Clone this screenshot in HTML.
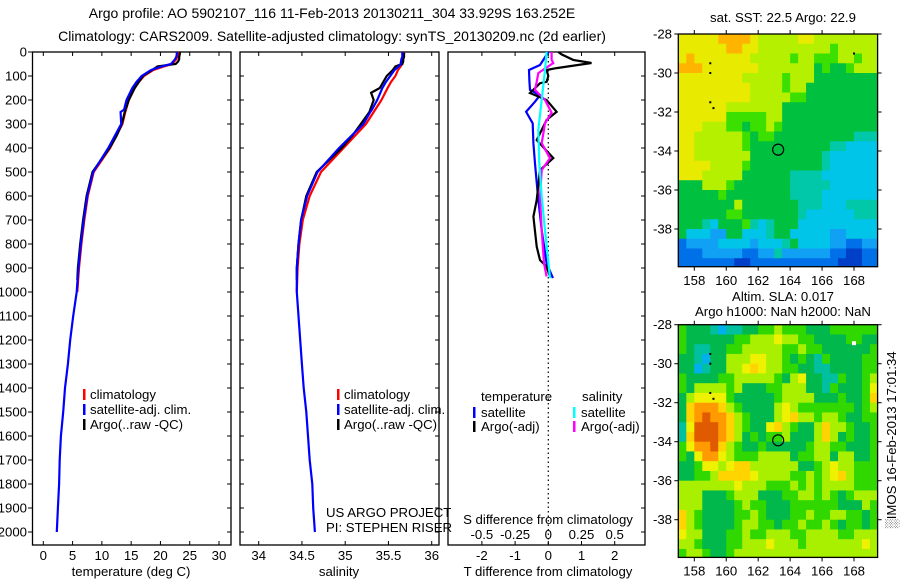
<!DOCTYPE html>
<html><head><meta charset="utf-8"><style>
body{margin:0;background:#fff;}
svg{display:block;font-family:"Liberation Sans",sans-serif;}
text{font-size:13.2px;fill:#000;}
</style></head><body>
<svg id="fig" width="900" height="580" viewBox="0 0 900 580"></svg>
<script>
// ---------- data ----------
const climD=[0,10,20,30,50,60,75,100,125,150,200,250,300,400,500,600,700,800,900,1000];
const climT=[23.0,23.0,22.9,22.7,22.0,20.6,18.8,17.2,16.3,15.6,14.6,14.0,13.5,11.4,8.6,7.6,7.0,6.5,6.1,5.8];
const climS=[35.68,35.68,35.68,35.67,35.66,35.64,35.61,35.58,35.53,35.49,35.42,35.33,35.24,34.98,34.72,34.59,34.51,34.47,34.45,34.44];
const satD=[0,10,20,30,50,60,75,100,125,150,200,240,250,300,400,500,600,700,800,900,1000,1100,1200,1300,1400,1500,1600,1700,1800,1900,2000];
const satT=[22.8,22.8,22.7,22.5,21.8,20.2,18.4,16.8,15.9,15.2,14.2,13.8,13.2,13.3,11.1,8.5,7.5,6.9,6.4,6.0,5.7,5.1,4.6,4.2,3.7,3.4,3.0,2.8,2.7,2.5,2.3];
const satS=[35.66,35.66,35.66,35.65,35.64,35.62,35.57,35.52,35.47,35.43,35.37,35.31,35.29,35.21,34.93,34.68,34.56,34.49,34.46,34.44,34.44,34.46,34.48,34.50,34.52,34.55,34.57,34.59,34.62,34.63,34.65];
const argoD=[2,10,20,30,40,50,55,60,75,100,150,170,200,250,300,350,400,500,600,700,800,900,950];
const argoT=[23.3,23.3,23.2,23.2,23.0,22.6,21.0,19.5,18.6,17.0,15.6,15.2,14.6,13.9,13.4,12.5,11.3,8.4,7.4,6.8,6.3,5.9,5.8];
const argoS=[35.68,35.68,35.68,35.67,35.67,35.66,35.62,35.58,35.55,35.48,35.40,35.30,35.33,35.28,35.18,35.08,34.96,34.67,34.55,34.49,34.46,34.44,34.44];
const dSatTD=[0,12,54,75,120,158,180,207,249,297,380,464,603,742,880,942];
const dSatT=[0,-0.05,-0.25,-0.58,-0.57,-0.55,-0.25,-0.4,-0.67,-0.47,-0.45,-0.4,-0.31,-0.2,-0.05,0.14];
const dArgoTD=[0,10,33,46,67,75,100,124,130,171,200,249,283,367,442,492,617,686,811,867,894,936];
const dArgoT=[0.3,0.4,0.75,1.3,0.25,-0.05,0.0,-0.05,-0.25,-0.55,-0.05,0.25,-0.05,-0.35,0.15,-0.25,-0.35,-0.45,-0.35,-0.25,-0.05,0.05];
const dArgoSD=[0,33,46,88,124,158,200,253,297,380,442,492,603,742,880,936];
const dArgoS=[0.025,0.025,0.0375,-0.075,-0.0875,-0.1,-0.025,0.025,-0.025,-0.05,0.0125,-0.05,-0.0625,-0.05,-0.0325,-0.0125];
const dSatSD=[0,75,200,325,464,603,742,942];
const dSatS=[-0.0125,-0.025,-0.05,-0.075,-0.0675,-0.05,-0.025,0.0125];
const depthTicks=[0,100,200,300,400,500,600,700,800,900,1000,1100,1200,1300,1400,1500,1600,1700,1800,1900,2000];
const tempTicks=[0,5,10,15,20,25,30];
const salTicks=[34,34.5,35,35.5,36];
const tdTicks=[-2,-1,0,1,2];
const sdTicks=[-0.5,-0.25,0,0.25,0.5];
const lonTicks=[158,160,162,164,166,168];
const latTicks=[-28,-30,-32,-34,-36,-38];
// SST map grid: 25 cols (157..169.5, 0.5deg), 24 rows (-28..-40)
const sstRows=[
"yyyyyooooylllllyylllllllll","yyyyyyooyylllllllllglllllll","yoyyyyyyylllllgllgggllglll","oooyyyyyyylllllllGgGGglll",
"yyyyyyyylllllglllGGGGGGGG","yyyyyyyyyllllgllGGGGGGGGG","yyyyyyyyylllllggGGGGGGGGG","yyyyyylllllllGGGGGGGGGGGG",
"yyyyyygggggllGGGGGGGGGGGG","yyylllggGgglgGGGGGGGGGGGG","yyllllllgGggGGGGGGGGGGttt","yyllllllgGGGGGGGGGGttcccc",
"yylllllllGGGGGGGGGtcccccc","yyyyllllgGGGGGGGGGtcccccc","yyylllllGGGGGGttttccccccc","GGGlllgGGGGGGGtttttcccccc",
"GGGGGgGGGGGGGGttttccccccc","GGGGGGGlGGGGGGGtttcccttttt","GGGGGGggGGGGGGGtcccccctttt","GGGtcGGGgtctGGGcccccccccc",
"GcccbbGGccctGGcccccbbcccc","BbbbbccccbccctGccccbbBBbb","BBBbbbbbBBbbtbbbbbbBBDDBB","BBBBBBBDDBBBBBBBBBBBDDDBB"];
const slaRows=[
"gGGGtcttGGgglgggGGGgggggg","gGGGGGGgglllyllggGGGGggGG","gGttGGgglllllgglggGGGGGGg","GGtcGGlllyyllgGgGtgGGGGgg",
"GGctGGllyYyllggGGttGGGGgg","gGGGGgglllllgGlyGGttgGGgl","gGllllglGGGgglllGGtgGGGgy","GlyyyygGGGGGgllllGGGgGGgY",
"GYoooYlgGGGGlylgggggggGgl","GYorooYlgGGGlyYllgllgGGgg","tyrrroYlgGGyYlgGGlYllgGGg","tYrrroYlGgGgglGGGlYlGgGGg",
"gyoorYlgGGgGGGGGgllggGGGg","gGyooylgggllllGggllGllGGg","GGgyylyYYllllllGGglyllggg","GGgglYYYYyllllgglglyYlggg",
"lllllllylllggglglgllllggg","lllGGGglllGGGggllglgGgll","lllGGGGglggGGGggggggGGGlg","YlgGGGGgglgGGGgglggllggGg",
"YlgGGGGgllggGgglgglgGggGg","yllGGGgglgglllggllllgglll","llgGGGgglllylllglllllllyl","gllgGGglllllllllllllllll"];
// ---------- helpers ----------
const NS="http://www.w3.org/2000/svg";
const svg=document.getElementById('fig');
function el(tag,attrs,parent){const e=document.createElementNS(NS,tag);for(const k in attrs)e.setAttribute(k,attrs[k]);(parent||svg).appendChild(e);return e;}
function txt(x,y,s,anchor,parent,size){const t=el('text',{x:x,y:y,'text-anchor':anchor||'start'},parent);if(size)t.style.fontSize=size+'px';t.textContent=s;return t;}
const yD=d=>52+d*0.24;
const xT=t=>43.3+t*5.857;
const xS=s=>258.7+(s-34)*86.5;
const xTD=v=>548.3+v*33.2;
const xSD=v=>548.3+v*4*33.2;
function line(xs,ys,fx,color,name,parent){
  const pts=xs.map((v,i)=>fx(v).toFixed(1)+','+yD(ys[i]).toFixed(1)).join(' ');
  const p=el('polyline',{points:pts,fill:'none',stroke:color,'stroke-width':2.2,'stroke-linejoin':'miter'},parent);
  
  
}
// titles
const tg=el('g',{});


txt(332,18,'Argo profile: AO 5902107_116 11-Feb-2013 20130211_304 33.929S 163.252E','middle',tg,14);
txt(332,41,'Climatology: CARS2009. Satellite-adjusted climatology: synTS_20130209.nc (2d earlier)','middle',tg,14);

function panel(x0,x1,name){
  const g=el('g',{});
  
  
  el('rect',{x:x0,y:52,width:x1-x0,height:493,fill:'none',stroke:'#000','stroke-width':1.3},g);
  depthTicks.forEach(d=>{el('line',{x1:x1,x2:x1-4,y1:yD(d),y2:yD(d),stroke:'#000'},g);});
  return g;
}
// ---- panel 1 temperature
const g1=panel(32.5,231,'temperature-panel');
depthTicks.forEach(d=>{el('line',{x1:32.5,x2:28,y1:yD(d),y2:yD(d),stroke:'#000'},g1);txt(27,yD(d)+4.5,String(d),'end',g1);});
tempTicks.forEach(t=>{el('line',{x1:xT(t),x2:xT(t),y1:545,y2:541,stroke:'#000'},g1);el('line',{x1:xT(t),x2:xT(t),y1:52,y2:56,stroke:'#000'},g1);txt(xT(t),560,String(t),'middle',g1);});
txt(131,576,'temperature (deg C)','middle',g1);
line(climT,climD,xT,'#ff0000','climatology-temperature-line',g1);
line(argoT,argoD,xT,'#000000','argo-temperature-line',g1);
line(satT,satD,xT,'#0000ff','satellite-temperature-line',g1);
// ---- panel 2 salinity
const g2=panel(240,439,'salinity-panel');
depthTicks.forEach(d=>{el('line',{x1:240,x2:244,y1:yD(d),y2:yD(d),stroke:'#000'},g2);});
salTicks.forEach(s=>{el('line',{x1:xS(s),x2:xS(s),y1:545,y2:541,stroke:'#000'},g2);el('line',{x1:xS(s),x2:xS(s),y1:52,y2:56,stroke:'#000'},g2);txt(xS(s),560,String(s),'middle',g2);});
txt(339,576,'salinity','middle',g2);
line(climS,climD,xS,'#ff0000','climatology-salinity-line',g2);
line(argoS,argoD,xS,'#000000','argo-salinity-line',g2);
line(satS,satD,xS,'#0000ff','satellite-salinity-line',g2);
txt(326,517,'US ARGO PROJECT','start',g2);
txt(326,532,'PI: STEPHEN RISER','start',g2);
// legends
function legend(x,items,parent,name){
  const g=el('g',{},parent);
  
  
  items.forEach((it,i)=>{const y=398+i*15;el('rect',{x:x,y:y-9,width:2.5,height:11,fill:it[0]},g);txt(x+7,y+1,it[1],'start',g);});
}
legend(83,[['#ff0000','climatology'],['#0000ff','satellite-adj. clim.'],['#000000','Argo(..raw -QC)']],g1,'temperature-legend');
legend(337,[['#ff0000','climatology'],['#0000ff','satellite-adj. clim.'],['#000000','Argo(..raw -QC)']],g2,'salinity-legend');
// ---- panel 3 differences
const g3=panel(448,645,'difference-panel');
el('line',{x1:548.3,x2:548.3,y1:52,y2:545,stroke:'#000','stroke-dasharray':'1.5,3','stroke-width':1.2},g3);
tdTicks.forEach(v=>{el('line',{x1:xTD(v),x2:xTD(v),y1:545,y2:541,stroke:'#000'},g3);el('line',{x1:xTD(v),x2:xTD(v),y1:52,y2:56,stroke:'#000'},g3);txt(xTD(v),560,String(v),'middle',g3);});
sdTicks.forEach(v=>{txt(xSD(v),539,String(v),'middle',g3);});
txt(548,524,'S difference from climatology','middle',g3);
txt(548,576,'T difference from climatology','middle',g3);
line(dSatT,dSatTD,xTD,'#0000ff','satellite-temperature-difference-line',g3);
line(dArgoT,dArgoTD,xTD,'#000000','argo-temperature-difference-line',g3);
line(dArgoS,dArgoSD,xSD,'#ff00ff','argo-salinity-difference-line',g3);
line(dSatS,dSatSD,xSD,'#00ffff','satellite-salinity-difference-line',g3);
txt(481,401,'temperature','start',g3);
txt(582,401,'salinity','start',g3);
[['#0000ff',473,'satellite'],['#000000',473,'Argo(-adj)'],['#00ffff',573,'satellite'],['#ff00ff',573,'Argo(-adj)']].forEach((it,i)=>{
  const y=416+(i%2)*14;el('rect',{x:it[1],y:y-9,width:2.5,height:11,fill:it[0]},g3);txt(it[1]+8,y+1,it[2],'start',g3);
});
// ---- maps
const sstPal={o:'#ffb400',y:'#e8ea00',l:'#b4f000',g:'#3ce000',G:'#00c040',t:'#00c8a8',c:'#00c4e8',b:'#10a0f4',B:'#0070e8',D:'#0040c8'};
const slaPal={g:'#30d800',G:'#00b84c',l:'#a8f000',y:'#eef200',Y:'#ffd400',o:'#ff9a00',r:'#e05a00',t:'#00c0a0',c:'#00b0ec'};
const lonX=l=>694.3+(l-158)*15.97;
function map(top,rows,pal,name){
  const g=el('g',{});
  
  
  const latY=l=>top+(-28-l)*19.5;
  const cp=el('clipPath',{id:'cp'+name},g);
  el('rect',{x:678.3,y:top,width:199.3,height:232.7},cp);
  const cg=el('g',{'clip-path':'url(#cp'+name+')'},g);
  rows.forEach((r,ri)=>{for(let ci=0;ci<25;ci++){const ch=r[ci]||r[r.length-1];
    el('rect',{x:lonX(157+ci*0.5).toFixed(2),y:latY(-28-ri*0.5).toFixed(2),width:8.5,height:10.3,fill:pal[ch]||'#00c040'},cg);}});
  el('rect',{x:678.3,y:top,width:199.3,height:232.7,fill:'none',stroke:'#000','stroke-width':1.3},g);
  lonTicks.forEach(l=>{el('line',{x1:lonX(l),x2:lonX(l),y1:top,y2:top-4,stroke:'#000'},g);el('line',{x1:lonX(l),x2:lonX(l),y1:top+232.7,y2:top+236.7,stroke:'#000'},g);txt(lonX(l),top+251,String(l),'middle',g);});
  latTicks.forEach(l=>{el('line',{x1:678.3,x2:674.3,y1:latY(l),y2:latY(l),stroke:'#000'},g);el('line',{x1:877.6,x2:881.6,y1:latY(l),y2:latY(l),stroke:'#000'},g);txt(672,latY(l)+4.5,String(l),'end',g);});
  const c=el('circle',{cx:lonX(163.25),cy:latY(-33.93),r:5.5,fill:'none',stroke:'#000','stroke-width':1.2},g);
  
  
  [[159,-29.5],[159,-30],[159,-31.5],[159.2,-31.8],[168,-29]].forEach(p=>el('rect',{x:lonX(p[0])-1,y:latY(p[1])-1,width:2,height:2,fill:'#000'},g));
  return {g,latY};
}
txt(783,22,'sat. SST: 22.5 Argo: 22.9','middle');
map(34,sstRows,sstPal,'sst-map');
txt(783,301,'Altim. SLA: 0.017','middle');
txt(783,316,'Argo h1000: NaN h2000: NaN','middle');
const m2=map(324.7,slaRows,slaPal,'sla-map');
el('rect',{x:lonX(168)-2,y:m2.latY(-29)-3,width:4,height:4,fill:'#fff'},m2.g);
const st=txt(0,0,'\u2591IMOS 16-Feb-2013 17:01:34','middle');
st.setAttribute('transform','translate(896,440) rotate(-90)');


</script>
</body></html>
